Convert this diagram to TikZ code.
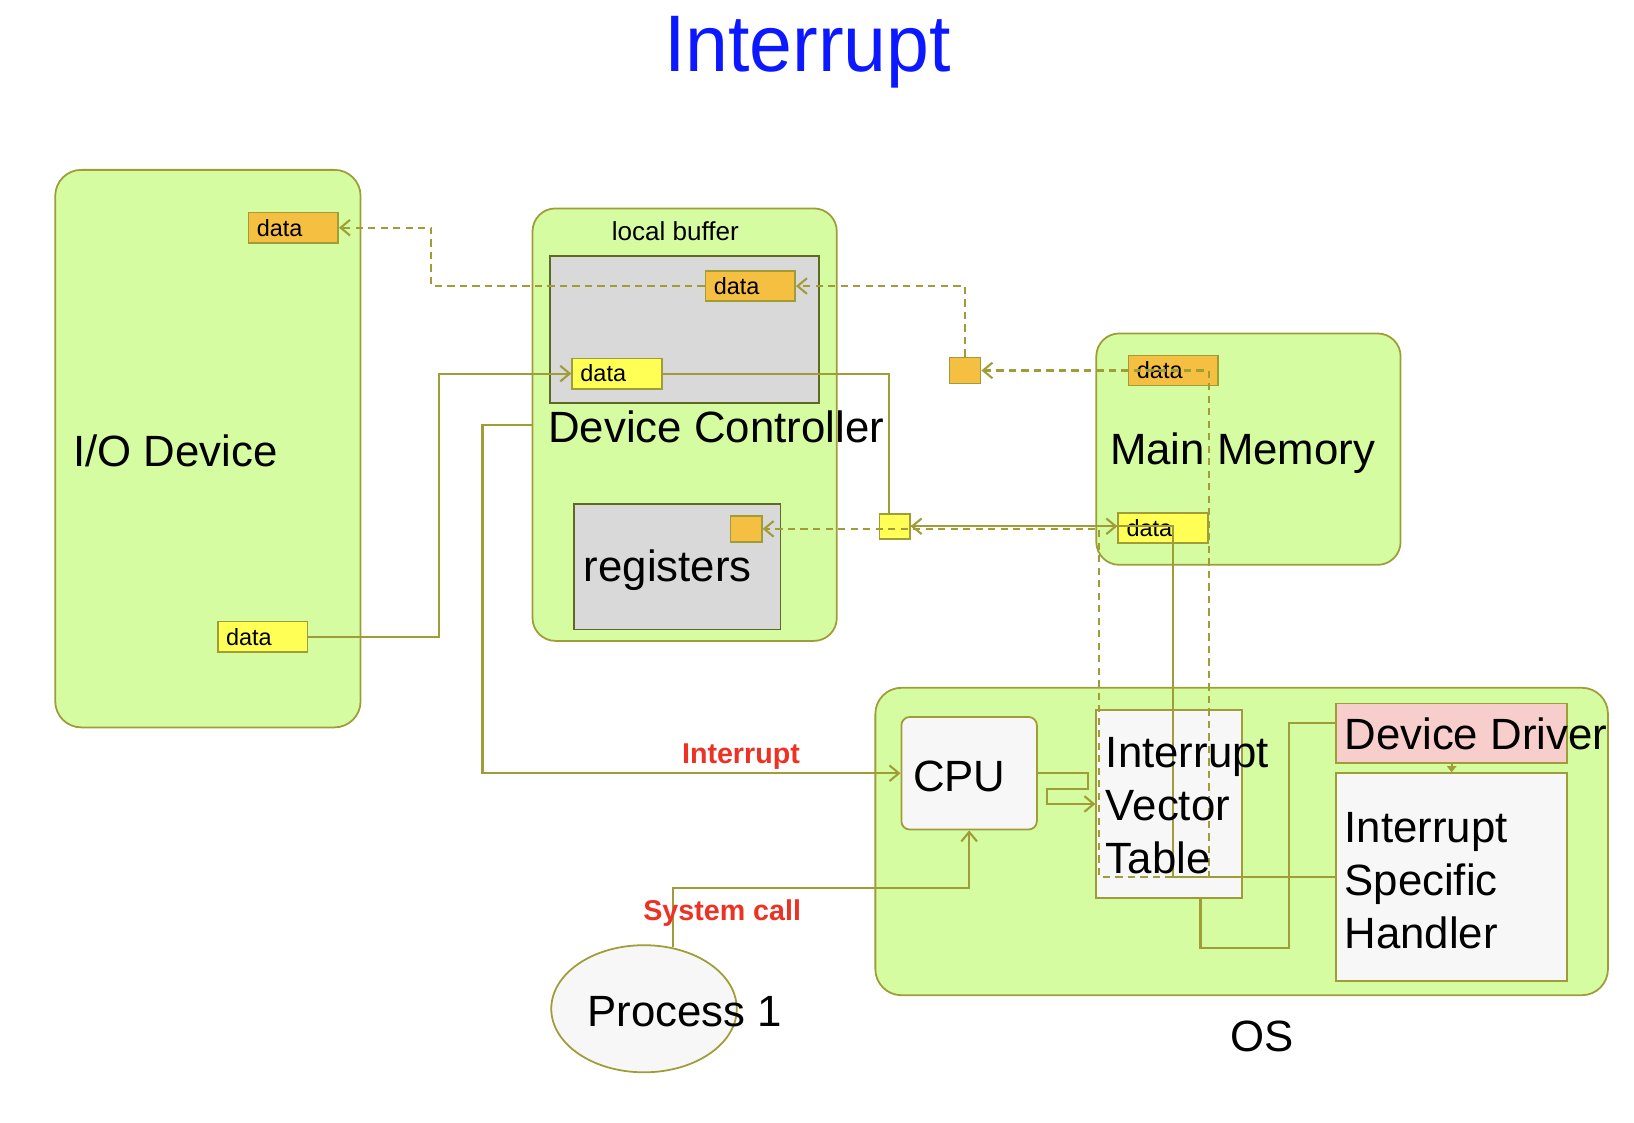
\documentclass[tikz,border=0pt]{standalone}
\usepackage{fontspec}
\setmainfont{Liberation Sans}
\usetikzlibrary{arrows.meta,shapes.geometric,calc}
\definecolor{grn}{RGB}{214,252,162}
\definecolor{olv}{RGB}{160,156,56}
\definecolor{gbd}{RGB}{95,105,35}
\definecolor{gfl}{RGB}{217,217,217}
\definecolor{org}{RGB}{245,192,65}
\definecolor{ylw}{RGB}{255,255,85}
\definecolor{lgr}{RGB}{247,247,247}
\definecolor{pnk}{RGB}{248,206,204}
\definecolor{rd}{RGB}{237,50,36}
\definecolor{ttl}{RGB}{12,24,255}
\begin{document}
\begin{tikzpicture}[x=1pt,y=-1pt,
  grp/.style={draw=olv,fill=grn,line width=1.7pt,inner sep=0pt},
  gbox/.style={draw=gbd,fill=gfl,line width=1.7pt,inner sep=0pt},
  wbox/.style={draw=olv,fill=lgr,line width=1.7pt,inner sep=0pt},
  dbox/.style={draw=olv,line width=1.6pt,inner sep=0pt,minimum width=86pt,minimum height=29pt,
     text width=70pt,align=left,font=\fontsize{22.5}{27}\selectfont},
  sq/.style={draw=olv,line width=1.6pt,inner sep=0pt,minimum width=30pt,minimum height=25pt},
  big/.style={font=\fontsize{42}{51}\selectfont,inner sep=0pt,align=left},
  redlbl/.style={text=rd,font=\fontsize{27.5}{33}\selectfont\bfseries,inner sep=0pt},
  sl/.style={draw=olv,line width=2pt},
  dl/.style={draw=olv,line width=2pt,dash pattern=on 7pt off 5pt},
  arrowend/.style={-{Straight Barb[length=9pt,width=15pt]}},
]
\useasboundingbox (0,0) rectangle (1568,1077);

% title
\node[text=ttl,font=\fontsize{77}{92}\selectfont,inner sep=0pt] (title) at (775,50.5) {\scalebox{0.96}[1]{Interrupt}};

% I/O device
\node[grp,rounded corners=25pt,minimum width=293pt,minimum height=535pt] (iodev) at (199.5,430.5) {};
\node[big,anchor=west] (iolbl) at (70,433) {I/O Device};
\node[dbox,fill=org] (iodata1) at (281.5,218.5) {data};
\node[dbox,fill=ylw] (iodata2) at (252,611) {data};

% Device controller
\node[grp,rounded corners=22pt,minimum width=292pt,minimum height=415pt] (dc) at (657,407.5) {};
\node[font=\fontsize{25}{30}\selectfont,inner sep=0pt] (lbuf) at (648,222) {local buffer};
\node[gbox,minimum width=258pt,minimum height=141pt] (buf) at (657,316.5) {};
\node[dbox,fill=org] (bufo) at (720,274.5) {data};
\node[dbox,fill=ylw] (bufy) at (592,358.5) {data};
\node[big,anchor=west] (dclbl) at (526,410) {Device Controller};
\node[gbox,minimum width=198pt,minimum height=120pt] (regs) at (650,544) {};
\node[big,anchor=west] (regslbl) at (560,547) {registers};
\node[sq,fill=org] (rego) at (716,507.5) {};

% transfer squares
\node[sq,fill=org] (sqo) at (926,355.5) {};
\node[sq,fill=ylw,minimum width=29pt,minimum height=24pt] (sqy) at (858.5,505) {};

% Main memory
\node[grp,rounded corners=22pt,minimum width=292pt,minimum height=222pt] (mm) at (1198,431) {};
\node[big,anchor=west] (mmlbl) at (1065,435) {Main Memory};
\node[dbox,fill=org] (mmo) at (1126,355.5) {data};
\node[dbox,fill=ylw] (mmy) at (1116,506.5) {data};

% OS
\node[grp,rounded corners=25pt,minimum width=703pt,minimum height=295pt] (os) at (1191.5,807.5) {};
\node[big] (oslbl) at (1211,995) {OS};
\node[wbox,rounded corners=8pt,minimum width=130pt,minimum height=108pt] (cpu) at (930,742) {};
\node[big,anchor=west] (cpulbl) at (876,745) {CPU};
\node[wbox,minimum width=140pt,minimum height=181pt] (ivt) at (1122,771.5) {};
\node[wbox,fill=pnk,minimum width=222pt,minimum height=57pt] (dd) at (1393,703.5) {};
\node[wbox,minimum width=222pt,minimum height=199pt] (ish) at (1393,841.5) {};

% Process
\node[ellipse,draw=olv,fill=lgr,line width=1.7pt,minimum width=178pt,minimum height=122pt,inner sep=0pt] (proc) at (618,968) {};

% coordinates for bends
\coordinate (c1) at (414,274.5);
\coordinate (c5) at (421,611);
\coordinate (c6) at (463,407.5);
\coordinate (ka) at (1126,841.5);
\coordinate (kb) at (1055,841.5);
\coordinate (kc) at (1160,841.5);
\coordinate (k9) at (1237,910);

% output data flow (dashed)
\draw[dl,arrowend] (bufo.west) -- (c1) |- (iodata1.east);
\draw[dl,arrowend] (sqo.north) |- (bufo.east);
\draw[dl,arrowend] (ish.west) -- (kc) |- (sqo.east);
\draw[dl,arrowend] (ish.west) -- (kb) |- (rego.east);

% input data flow (solid)
\draw[sl,arrowend] (iodata2.east) -- (c5) |- (bufy.west);
\draw[sl] (bufy.east) -| ([xshift=-5.5pt]sqy.north);
\draw[sl,arrowend] (sqy.east) -- (sqy.east -| mmy.west);
\draw[sl,arrowend] (ish.west) -- (ka) |- (sqy.east);

% interrupt / system call
\draw[sl,arrowend] (dc.west) -- (c6) |- (cpu.west);
\draw[sl,arrowend] (proc.65) |- ($(cpu.south)+(0,55)$) -- (cpu.south);
\draw[sl,arrowend] (cpu.east) -- ++(48,0) -- ++(0,15) -- ++(-39,0) |- (ivt.west);
\draw[sl] ([xshift=30pt]ivt.south) |- (k9) |- ([yshift=9.5pt]dd.west);
\draw[sl,-{Triangle[length=6pt,width=9pt]}] (dd.south) -- (ish.north);

% labels over lines
\node[big,anchor=west] (ivtlbl) at (1061,773) {Interrupt\\Vector\\Table};
\node[big,anchor=west] (ddlbl) at (1290,704) {Device Driver};
\node[big,anchor=west] (ishlbl) at (1290,845) {Interrupt\\Specific\\Handler};
\node[big] (proclbl) at (657,971) {Process 1};
\node[redlbl] (intlbl) at (711,726) {Interrupt};
\node[redlbl] (sclbl) at (693,876) {System call};
\end{tikzpicture}
\end{document}
